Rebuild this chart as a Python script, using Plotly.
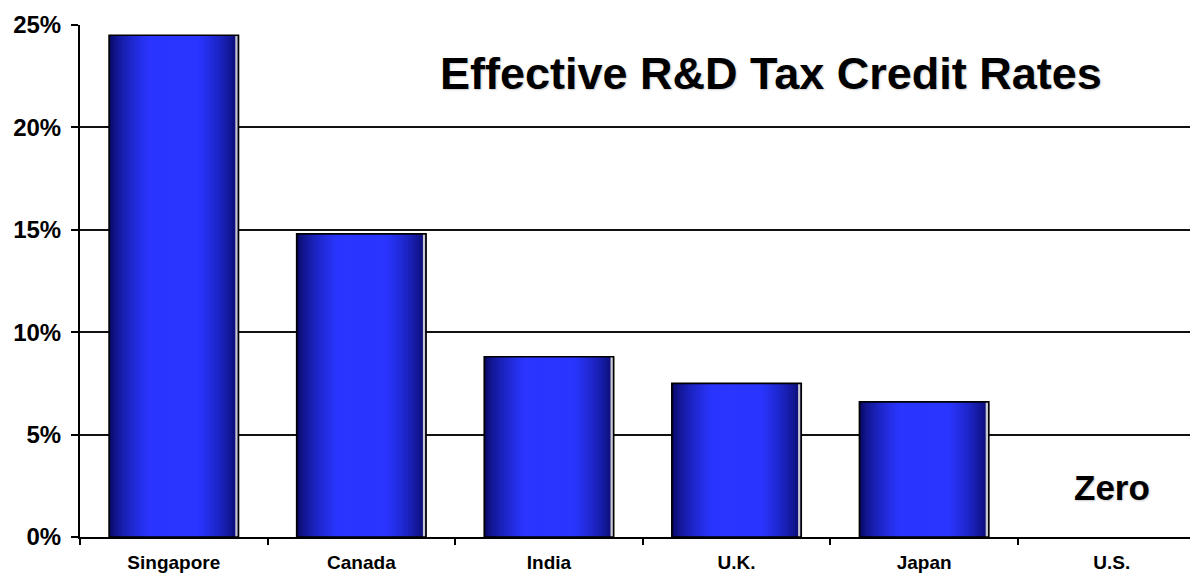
import plotly.graph_objects as go

# ---- data ----
countries = ["Singapore", "Canada", "India", "U.K.", "Japan", "U.S."]
credit_rates = [24.5, 14.8, 8.8, 7.5, 6.6, 0.0]
y_ticks = [0, 5, 10, 15, 20, 25]
y_tick_labels = ["0%", "5%", "10%", "15%", "20%", "25%"]
title_text = "Effective R&D Tax Credit Rates"
zero_label = "Zero"

BAR_W = 0.69
DARK = (6, 6, 88)
BRIGHT = (42, 54, 255)
N = 40

fig = go.Figure()

# gradient simulated by stacked overlay bars of decreasing width
for k in range(N):
    w = BAR_W * (1 - k / N)
    p = k / (N - 1)
    f = min(1.0, p / 0.62) ** 0.6
    c = tuple(int(DARK[i] + (BRIGHT[i] - DARK[i]) * f) for i in range(3))
    fig.add_trace(go.Bar(
        x=countries, y=credit_rates, width=w, offset=-w / 2,
        marker=dict(color="rgb(%d,%d,%d)" % c, line=dict(width=0)),
        hoverinfo="skip", showlegend=False,
    ))

# light edge strip on the right side
strip_w = 0.013
fig.add_trace(go.Bar(
    x=countries, y=credit_rates, width=strip_w, offset=BAR_W / 2 - strip_w - 0.004,
    marker=dict(color="#c9c9d4", line=dict(width=0)),
    hoverinfo="skip", showlegend=False,
))

# outline (no outline where the value is zero)
outline_widths = [1.6 if v > 0 else 0 for v in credit_rates]
fig.add_trace(go.Bar(
    x=countries, y=credit_rates, width=BAR_W, offset=-BAR_W / 2,
    marker=dict(color="rgba(0,0,0,0)", line=dict(color="#000", width=outline_widths)),
    showlegend=False,
))

fig.update_layout(
    width=1198, height=574,
    barmode="overlay",
    paper_bgcolor="white", plot_bgcolor="white",
    margin=dict(l=72, r=8, t=17, b=45, autoexpand=False),
    showlegend=False,
    xaxis=dict(
        range=[-0.5, 5.46], showline=True, linecolor="#000", linewidth=2,
        ticks="outside", tickson="boundaries", ticklen=6, tickwidth=2, tickcolor="#000",
        tickfont=dict(family="Liberation Sans", size=19, color="#000", weight="bold"),
        ticklabelstandoff=7,
        showgrid=False, zeroline=False, automargin=False,
    ),
    yaxis=dict(
        range=[0, 25], tickmode="array", tickvals=y_ticks, ticktext=y_tick_labels,
        showline=True, linecolor="#000", linewidth=2,
        ticks="outside", ticklen=7, tickwidth=2, tickcolor="#000",
        tickfont=dict(family="Liberation Sans", size=24, color="#000", weight="bold"),
        ticklabelstandoff=5,
        showgrid=True, gridcolor="#111", gridwidth=2, zeroline=False, automargin=False,
    ),
    annotations=[
        dict(text=title_text, xref="paper", yref="paper", x=0.618, y=0.905,
             showarrow=False, xanchor="center", yanchor="middle",
             font=dict(family="Liberation Sans", size=45, color="#000", weight="bold",
                       shadow="1px 1px 2px #cccccc")),
        dict(text=zero_label, xref="x", yref="y", x=5, y=2.4,
             showarrow=False, xanchor="center", yanchor="middle",
             font=dict(family="Liberation Sans", size=35, color="#000", weight="bold",
                       shadow="1px 1px 2px #cccccc")),
    ],
)

fig.write_html("out.html")
